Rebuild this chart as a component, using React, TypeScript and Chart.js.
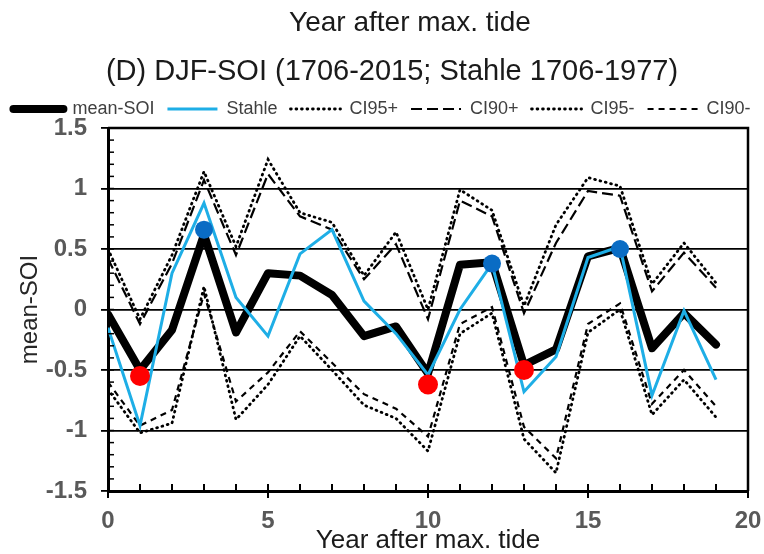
import React, { useEffect, useRef } from "react";
import { Chart, registerables } from "chart.js";

Chart.register(...registerables);

const years = [0, 1, 2, 3, 4, 5, 6, 7, 8, 9, 10, 11, 12, 13, 14, 15, 16, 17, 18, 19];
const meanSOI = [-0.04, -0.5, -0.17, 0.62, -0.19, 0.3, 0.28, 0.12, -0.22, -0.14, -0.53, 0.37, 0.39, -0.46, -0.33, 0.44, 0.51, -0.32, -0.03, -0.29];
const stahle = [-0.15, -0.96, 0.3, 0.88, 0.1, -0.22, 0.46, 0.66, 0.07, -0.2, -0.54, 0.0, 0.38, -0.68, -0.39, 0.43, 0.52, -0.71, -0.01, -0.58];
const ci95Plus = [0.5, -0.08, 0.45, 1.14, 0.52, 1.24, 0.8, 0.72, 0.28, 0.64, 0.0, 0.99, 0.82, 0.03, 0.7, 1.09, 1.02, 0.21, 0.55, 0.22];
const ci90Plus = [0.42, -0.12, 0.38, 1.07, 0.45, 1.12, 0.77, 0.66, 0.25, 0.54, -0.08, 0.9, 0.77, -0.03, 0.55, 0.98, 0.94, 0.15, 0.47, 0.18];
const ci95Minus = [-0.66, -1.02, -0.94, 0.19, -0.91, -0.62, -0.22, -0.5, -0.79, -0.9, -1.17, -0.2, -0.03, -1.07, -1.35, -0.19, 0.0, -0.87, -0.58, -0.89];
const ci90Minus = [-0.6, -0.96, -0.83, 0.13, -0.76, -0.52, -0.18, -0.44, -0.7, -0.82, -1.05, -0.12, 0.02, -0.97, -1.23, -0.12, 0.05, -0.78, -0.5, -0.8];

const redYears = [1, 10, 13];
const redValues = [-0.55, -0.62, -0.5];
const blueYears = [3, 12, 16];
const blueValues = [0.66, 0.38, 0.5];

const yTicks = [-1.5, -1, -0.5, 0, 0.5, 1, 1.5];
const yTickLabels = ["-1.5", "-1", "-0.5", "0", "0.5", "1", "1.5"];
const xTicks = [0, 5, 10, 15, 20];
const xTickLabels = ["0", "5", "10", "15", "20"];

const titleText = "Year after max. tide";
const subtitleText = "(D) DJF-SOI (1706-2015; Stahle 1706-1977)";
const xTitle = "Year after max. tide";
const yTitle = "mean-SOI";

const FONT = "'Liberation Sans', Arial, Helvetica, sans-serif";

const pts = (xs: number[], ys: number[]) => xs.map((x, i) => ({ x, y: ys[i] }));

const titlePlugin = {
  id: "topTitles",
  afterDraw(chart: any) {
    const { ctx } = chart;
    ctx.save();
    ctx.fillStyle = "#1a1a1a";
    ctx.textAlign = "center";
    ctx.textBaseline = "middle";
    ctx.font = `28px ${FONT}`;
    ctx.fillText(titleText, 410, 23);
    ctx.font = `29px ${FONT}`;
    ctx.fillText(subtitleText, 392, 72);
    ctx.restore();
  },
};

const framePlugin = {
  id: "frameMinor",
  afterDraw(chart: any) {
    const { ctx, chartArea, scales } = chart;
    const xs = scales.x;
    const ys = scales.y;
    ctx.save();
    ctx.strokeStyle = "#000";
    ctx.lineWidth = 1.5;
    for (let k = -15; k <= 15; k++) {
      const py = ys.getPixelForValue(k / 10);
      ctx.beginPath();
      ctx.moveTo(chartArea.left, py);
      ctx.lineTo(chartArea.left + 6, py);
      ctx.stroke();
    }
    ctx.lineWidth = 2;
    for (let k = 0; k <= 20; k++) {
      const px = xs.getPixelForValue(k);
      ctx.beginPath();
      ctx.moveTo(px, chartArea.bottom);
      ctx.lineTo(px, chartArea.bottom - 7);
      ctx.stroke();
    }
    ctx.lineWidth = 2.5;
    ctx.beginPath();
    ctx.moveTo(chartArea.left, chartArea.top);
    ctx.lineTo(chartArea.right, chartArea.top);
    ctx.lineTo(chartArea.right, chartArea.bottom);
    ctx.stroke();
    ctx.restore();
  },
};

export default function App() {
  const ref = useRef<HTMLCanvasElement | null>(null);

  useEffect(() => {
    document.body.style.margin = "0";
    const canvas = ref.current;
    if (!canvas) return;
    const lineBase = {
      pointRadius: 0,
      pointHoverRadius: 0,
      tension: 0,
      fill: false,
      showLine: true,
    };
    const chart = new Chart(canvas, {
      type: "line",
      data: {
        datasets: [
          {
            ...lineBase,
            label: "mean-SOI",
            data: pts(years, meanSOI),
            borderColor: "#000000",
            backgroundColor: "#000000",
            borderWidth: 8,
            borderCapStyle: "round",
            borderJoinStyle: "round",
            order: 2,
          },
          {
            ...lineBase,
            label: "Stahle",
            data: pts(years, stahle),
            borderColor: "#1EAEE6",
            backgroundColor: "#1EAEE6",
            borderWidth: 3,
            order: 1,
          },
          {
            ...lineBase,
            label: "CI95+",
            data: pts(years, ci95Plus),
            borderColor: "#000000",
            backgroundColor: "#000000",
            borderWidth: 2.8,
            borderDash: [0.8, 4.7],
            borderCapStyle: "round",
            order: 3,
          },
          {
            ...lineBase,
            label: "CI90+",
            data: pts(years, ci90Plus),
            borderColor: "#000000",
            backgroundColor: "#000000",
            borderWidth: 2.2,
            borderDash: [11, 5],
            order: 4,
          },
          {
            ...lineBase,
            label: "CI95-",
            data: pts(years, ci95Minus),
            borderColor: "#000000",
            backgroundColor: "#000000",
            borderWidth: 2.8,
            borderDash: [0.8, 4.7],
            borderCapStyle: "round",
            order: 5,
          },
          {
            ...lineBase,
            label: "CI90-",
            data: pts(years, ci90Minus),
            borderColor: "#000000",
            backgroundColor: "#000000",
            borderWidth: 2.2,
            borderDash: [6, 5],
            order: 6,
          },
          {
            label: "_red",
            data: pts(redYears, redValues),
            showLine: false,
            pointRadius: 10,
            pointBackgroundColor: "#FF0000",
            pointBorderColor: "#FF0000",
            pointBorderWidth: 0,
            borderColor: "#FF0000",
            backgroundColor: "#FF0000",
            order: 0,
          },
          {
            label: "_blue",
            data: pts(blueYears, blueValues),
            showLine: false,
            pointRadius: 9,
            pointBackgroundColor: "#0A6CC4",
            pointBorderColor: "#0A6CC4",
            pointBorderWidth: 0,
            borderColor: "#0A6CC4",
            backgroundColor: "#0A6CC4",
            order: 0,
          },
        ],
      } as any,
      options: {
        animation: false,
        responsive: false,
        maintainAspectRatio: false,
        devicePixelRatio: 1,
        layout: { padding: { top: 81, left: 0, right: 0, bottom: 0 } },
        events: [],
        plugins: {
          tooltip: { enabled: false },
          title: { display: false },
          subtitle: { display: false },
          legend: {
            display: true,
            position: "top",
            labels: {
              usePointStyle: true,
              pointStyle: "line",
              pointStyleWidth: 50,
              padding: 13,
              color: "#404040",
              font: { family: FONT, size: 18 },
              filter: (item: any) => !String(item.text).startsWith("_"),
              sort: (a: any, b: any) => a.datasetIndex - b.datasetIndex,
              generateLabels: (ch: any) => {
                const items = (Chart.defaults as any).plugins.legend.labels.generateLabels(ch);
                return items.map((it: any) => {
                  const ds = ch.data.datasets[it.datasetIndex];
                  return {
                    ...it,
                    lineDash: ds.borderDash || [],
                    lineCap: ds.borderCapStyle || "butt",
                    lineWidth: ds.borderWidth,
                    strokeStyle: ds.borderColor,
                    fillStyle: ds.borderColor,
                  };
                });
              },
            },
          },
        },
        scales: {
          x: {
            type: "linear",
            min: 0,
            max: 20,
            afterBuildTicks: (scale: any) => {
              scale.ticks = xTicks.map((v) => ({ value: v }));
            },
            afterFit: (scale: any) => {
              scale.height = 63;
              scale.paddingRight = 16;
            },
            ticks: {
              color: "#595959",
              font: { family: FONT, size: 24, weight: "bold" },
              padding: 9,
              maxRotation: 0,
              autoSkip: false,
              callback: (v: any) => xTickLabels[xTicks.indexOf(Number(v))] ?? "",
            },
            grid: {
              display: true,
              drawOnChartArea: false,
              drawTicks: true,
              tickLength: 7,
              color: "#000",
              lineWidth: 2,
            },
            border: { display: true, color: "#000", width: 3 },
            title: {
              display: true,
              text: xTitle,
              color: "#1a1a1a",
              font: { family: FONT, size: 26, lineHeight: 1.0 },
              padding: { top: 0, bottom: 0 },
            },
          },
          y: {
            type: "linear",
            min: -1.5,
            max: 1.5,
            afterBuildTicks: (scale: any) => {
              scale.ticks = yTicks.map((v) => ({ value: v }));
            },
            afterFit: (scale: any) => {
              scale.width = 108;
              scale.paddingTop = 128;
            },
            ticks: {
              color: "#595959",
              font: { family: FONT, size: 24, weight: "bold" },
              padding: 14,
              autoSkip: false,
              callback: (v: any) => yTickLabels[yTicks.indexOf(Number(v))] ?? "",
            },
            grid: {
              display: true,
              drawOnChartArea: true,
              drawTicks: true,
              tickLength: 7,
              color: "#000",
              lineWidth: 1.8,
            },
            border: { display: true, color: "#000", width: 3 },
            title: {
              display: true,
              text: yTitle,
              color: "#262626",
              font: { family: FONT, size: 24, lineHeight: 1.0 },
              padding: { top: 18, bottom: 0 },
            },
          },
        },
      } as any,
      plugins: [titlePlugin, framePlugin],
    });
    return () => chart.destroy();
  }, []);

  return (
    <div style={{ width: 764, height: 554 }}>
      <canvas ref={ref} width={764} height={554} style={{ display: "block" }} />
    </div>
  );
}
